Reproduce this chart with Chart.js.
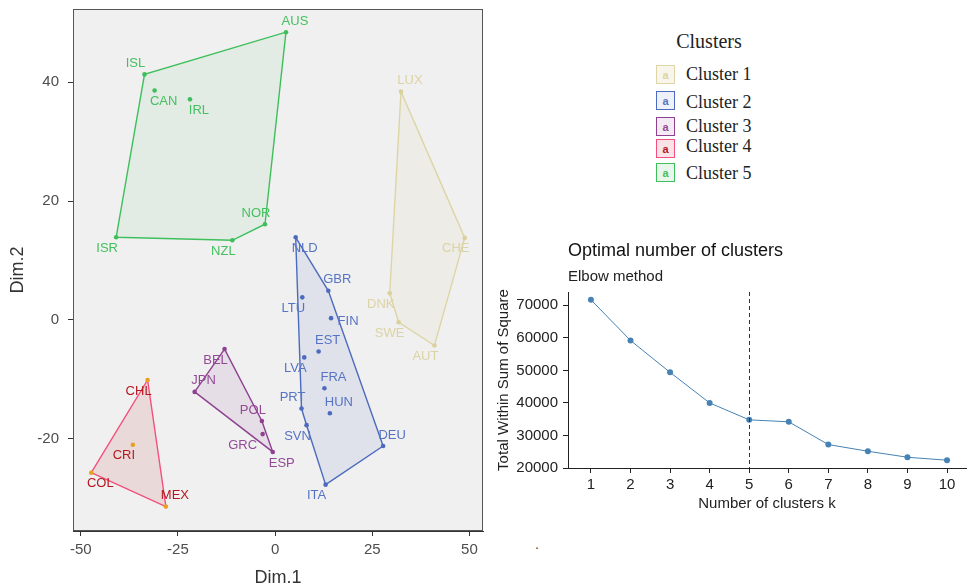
<!DOCTYPE html>
<html>
<head>
<meta charset="utf-8">
<script src="https://cdn.jsdelivr.net/npm/chart.js@4.4.0/dist/chart.umd.min.js"></script>
<style>
  body { margin: 0; background: #fff; width: 969px; height: 587px; position: relative; overflow: hidden;
         font-family: "Liberation Sans", Arial, sans-serif; }
  #clusterWrap { position: absolute; left: 0; top: 0; width: 490px; height: 587px; }
  #elbowWrap { position: absolute; left: 490px; top: 230px; width: 479px; height: 300px; }
  .lg-title { position: absolute; left: 709px; top: 41px; transform: translate(-50%, -50%);
              font: 20px "Liberation Serif", "Times New Roman", serif; color: #222; white-space: nowrap; }
  .lg-key { position: absolute; left: 656px; width: 17px; height: 17px; border: 1.5px solid;
            font: bold 11px "Liberation Sans", Arial, sans-serif; text-align: center; line-height: 18px; }
  .lg-text { position: absolute; left: 686px; transform: translateY(-50%);
             font: 18px "Liberation Serif", "Times New Roman", serif; color: #222; white-space: nowrap; }
  .stray { position: absolute; left: 535px; top: 536px; font: 14px "Liberation Sans", Arial, sans-serif; color: #444; }
</style>
</head>
<body>
<div id="clusterWrap"><canvas id="clusterChart"></canvas></div>
<div id="elbowWrap"><canvas id="elbowChart"></canvas></div>
<div id="legend"></div>
<div class="stray">.</div>

<script>
/******************************************************
 * DATA
 ******************************************************/
const clusterNames = ["Cluster 1", "Cluster 2", "Cluster 3", "Cluster 4", "Cluster 5"];

const c1Countries = ["LUX", "CHE", "DNK", "SWE", "AUT"];
const c1Dim1 = [32.4, 48.8, 29.5, 31.8, 41.0];
const c1Dim2 = [38.4, 13.8, 4.5, -0.4, -4.3];

const c2Countries = ["NLD", "GBR", "LTU", "FIN", "EST", "LVA", "FRA", "HUN", "PRT", "SVN", "DEU", "ITA"];
const c2Dim1 = [5.3, 13.7, 7.0, 14.4, 11.2, 7.5, 12.7, 14.1, 6.8, 8.1, 27.8, 13.0];
const c2Dim2 = [13.9, 4.9, 3.8, 0.3, -5.3, -6.3, -11.5, -15.7, -14.9, -17.7, -21.2, -27.7];

const c3Countries = ["BEL", "JPN", "POL", "GRC", "ESP"];
const c3Dim1 = [-13.0, -20.7, -3.4, -3.2, -0.6];
const c3Dim2 = [-4.9, -12.1, -17.0, -19.2, -22.2];

const c4Countries = ["CHL", "CRI", "COL", "MEX"];
const c4Dim1 = [-32.8, -36.6, -47.3, -28.1];
const c4Dim2 = [-10.1, -21.0, -25.7, -31.4];

const c5Countries = ["AUS", "ISL", "CAN", "IRL", "NOR", "ISR", "NZL"];
const c5Dim1 = [2.8, -33.6, -31.0, -21.9, -2.6, -40.9, -11.0];
const c5Dim2 = [48.4, 41.3, 38.6, 37.1, 16.1, 13.9, 13.4];

const dim1Ticks = [-50, -25, 0, 25, 50];
const dim2Ticks = [-20, 0, 20, 40];

const kValues = [1, 2, 3, 4, 5, 6, 7, 8, 9, 10];
const wssValues = [71700, 59200, 49400, 40000, 34800, 34200, 27200, 25150, 23300, 22400];
const wssTicks = [20000, 30000, 40000, 50000, 60000, 70000];
const optimalK = 5;

/******************************************************
 * STYLE
 ******************************************************/
const lineColors  = ["#DDD5A6", "#4D6BBE", "#8E4191", "#F2507E", "#3FBF5C"];
const pointColors = ["#D9D09C", "#4D6BBE", "#8E4191", "#E8A020", "#3FBF5C"];
const textColors  = ["#DCD3A4", "#5774C4", "#934A96", "#B4161E", "#45C05F"];
const fillColors  = ["rgba(221,213,166,0.12)", "rgba(77,107,190,0.10)", "rgba(142,65,145,0.10)",
                     "rgba(200,80,80,0.14)", "rgba(63,191,92,0.08)"];
const keyFills    = ["#F8F6EC", "#EEF1F9", "#F4EAF4", "#FAE3E7", "#E9F6EC"];
const keyTops     = [65, 90.5, 116.5, 139, 162.5];
const labelMids   = [74, 101.5, 126, 146, 172.5];

// label offsets (px) from each point, ggrepel style
const NE = [9, -11], NW = [-9, -11], SE = [9, 11], SW = [-9, 11];
const labelNudge = {
  AUS: NE, ISL: NW, CAN: SE, IRL: SE, NOR: NW, ISR: SW, NZL: SW,
  NLD: SE, GBR: NE, LTU: SW, FIN: [17, 3], EST: NE, LVA: SW, FRA: NE, HUN: NE, PRT: NW, SVN: SW, DEU: NE, ITA: SW,
  LUX: NE, CHE: SW, DNK: SW, SWE: SW, AUT: SW,
  BEL: SW, JPN: NE, POL: NW, GRC: [-20, 11], ESP: SE,
  CHL: SW, CRI: SW, COL: SE, MEX: NE
};

const clusters = [
  { countries: c1Countries, dim1: c1Dim1, dim2: c1Dim2 },
  { countries: c2Countries, dim1: c2Dim1, dim2: c2Dim2 },
  { countries: c3Countries, dim1: c3Dim1, dim2: c3Dim2 },
  { countries: c4Countries, dim1: c4Dim1, dim2: c4Dim2 },
  { countries: c5Countries, dim1: c5Dim1, dim2: c5Dim2 }
];

/******************************************************
 * HELPERS
 ******************************************************/
function convexHull(pts) {
  const p = pts.slice().sort((a, b) => a.x - b.x || a.y - b.y);
  const cross = (o, a, b) => (a.x - o.x) * (b.y - o.y) - (a.y - o.y) * (b.x - o.x);
  const lower = [];
  p.forEach(pt => {
    while (lower.length >= 2 && cross(lower[lower.length - 2], lower[lower.length - 1], pt) <= 0) lower.pop();
    lower.push(pt);
  });
  const upper = [];
  p.slice().reverse().forEach(pt => {
    while (upper.length >= 2 && cross(upper[upper.length - 2], upper[upper.length - 1], pt) <= 0) upper.pop();
    upper.push(pt);
  });
  upper.pop(); lower.pop();
  const hull = lower.concat(upper);
  hull.push(hull[0]);
  return hull;
}

/******************************************************
 * CLUSTER PLOT
 ******************************************************/
const clusterDatasets = [];
clusters.forEach((c, i) => {
  const pts = c.countries.map((name, j) => ({ x: c.dim1[j], y: c.dim2[j], name: name }));
  clusterDatasets.push({
    data: pts, showLine: false, pointRadius: 2.3, pointHoverRadius: 2.3,
    pointBackgroundColor: pointColors[i], pointBorderWidth: 0, clusterIndex: i
  });
  clusterDatasets.push({
    data: convexHull(pts), showLine: true, fill: "shape", tension: 0,
    borderColor: lineColors[i], borderWidth: 1.4, backgroundColor: fillColors[i], pointRadius: 0
  });
});

const panelPlugin = {
  id: "panel",
  beforeDraw(chart) {
    const { ctx, chartArea: a } = chart;
    ctx.save();
    ctx.fillStyle = "#F0F0F0";
    ctx.fillRect(a.left, a.top, a.right - a.left, a.bottom - a.top);
    ctx.restore();
  },
  afterDatasetsDraw(chart) {
    const { ctx, chartArea: a } = chart;
    ctx.save();
    ctx.strokeStyle = "#555";
    ctx.lineWidth = 1;
    ctx.strokeRect(a.left + 0.5, a.top + 0.5, a.right - a.left - 1, a.bottom - a.top - 1);
    ctx.font = "13px 'Liberation Sans', Arial, sans-serif";
    ctx.textAlign = "center";
    ctx.textBaseline = "middle";
    const xs = chart.scales.x, ys = chart.scales.y;
    clusters.forEach((c, i) => {
      ctx.fillStyle = textColors[i];
      c.countries.forEach((name, j) => {
        const nd = labelNudge[name] || NE;
        ctx.fillText(name, xs.getPixelForValue(c.dim1[j]) + nd[0], ys.getPixelForValue(c.dim2[j]) + nd[1]);
      });
    });
    ctx.restore();
  }
};

new Chart(document.getElementById("clusterChart"), {
  type: "scatter",
  data: { datasets: clusterDatasets },
  options: {
    responsive: true, maintainAspectRatio: false, animation: false,
    layout: { padding: { top: 9, right: 7, left: 0, bottom: 0 } },
    plugins: { legend: { display: false }, tooltip: { enabled: false } },
    scales: {
      x: {
        type: "linear", min: -52, max: 53.5,
        afterBuildTicks: s => { s.ticks = dim1Ticks.map(v => ({ value: v })); },
        afterFit: s => { s.height = 56; },
        grid: { drawOnChartArea: false, tickLength: 5, color: "#333" },
        border: { color: "#333" },
        ticks: { padding: 5, color: "#4D4D4D", font: { size: 15, family: "Liberation Sans" } },
        title: { display: true, text: "Dim.1", color: "#333",
                 font: { size: 18, family: "Liberation Sans", lineHeight: 1 }, padding: { top: 0, bottom: 0 } }
      },
      y: {
        type: "linear", min: -35.5, max: 52.3,
        afterBuildTicks: s => { s.ticks = dim2Ticks.map(v => ({ value: v })); },
        afterFit: s => { s.width = 73; s.paddingTop = 0; s.paddingBottom = 0; },
        grid: { drawOnChartArea: false, tickLength: 5, color: "#333" },
        border: { color: "#333" },
        ticks: { padding: 9, color: "#4D4D4D", font: { size: 15, family: "Liberation Sans" } },
        title: { display: true, text: "Dim.2", color: "#333",
                 font: { size: 18, family: "Liberation Sans", lineHeight: 1 }, padding: { top: 9, bottom: 0 } }
      }
    }
  },
  plugins: [panelPlugin]
});

/******************************************************
 * LEGEND
 ******************************************************/
const legend = document.getElementById("legend");
legend.innerHTML = '<div class="lg-title">Clusters</div>';
clusterNames.forEach((name, i) => {
  const key = document.createElement("div");
  key.className = "lg-key";
  key.style.top = keyTops[i] + "px";
  key.style.borderColor = lineColors[i];
  key.style.background = keyFills[i];
  key.style.color = textColors[i];
  key.textContent = "a";
  legend.appendChild(key);

  const txt = document.createElement("div");
  txt.className = "lg-text";
  txt.style.top = labelMids[i] + "px";
  txt.textContent = name;
  legend.appendChild(txt);
});

/******************************************************
 * ELBOW PLOT
 ******************************************************/
const elbowPlugin = {
  id: "elbow",
  afterDatasetsDraw(chart) {
    const { ctx, chartArea: a } = chart;
    const x = Math.round(chart.scales.x.getPixelForValue(optimalK)) + 0.5;
    ctx.save();
    ctx.strokeStyle = "#333";
    ctx.lineWidth = 1;
    ctx.setLineDash([4, 3]);
    ctx.beginPath();
    ctx.moveTo(x, a.top);
    ctx.lineTo(x, a.bottom);
    ctx.stroke();
    ctx.restore();
  },
  afterDraw(chart) {
    const { ctx, chartArea: a } = chart;
    ctx.save();
    ctx.textAlign = "left";
    ctx.textBaseline = "middle";
    ctx.fillStyle = "#111";
    ctx.font = "18px 'Liberation Sans', Arial, sans-serif";
    ctx.fillText("Optimal number of clusters", a.left, 21);
    ctx.fillStyle = "#222";
    ctx.font = "15px 'Liberation Sans', Arial, sans-serif";
    ctx.fillText("Elbow method", a.left, 47);
    ctx.restore();
  }
};

new Chart(document.getElementById("elbowChart"), {
  type: "line",
  data: {
    datasets: [{
      data: kValues.map((k, i) => ({ x: k, y: wssValues[i] })),
      borderColor: "#4682B4", borderWidth: 1, backgroundColor: "#4682B4",
      pointRadius: 3, pointHoverRadius: 3, pointBorderWidth: 0, tension: 0, fill: false
    }]
  },
  options: {
    responsive: true, maintainAspectRatio: false, animation: false,
    layout: { padding: { top: 62, right: 0, left: 0, bottom: 0 } },
    plugins: { legend: { display: false }, tooltip: { enabled: false } },
    scales: {
      x: {
        type: "linear", min: 0.42, max: 10.48,
        afterBuildTicks: s => { s.ticks = kValues.map(v => ({ value: v })); },
        afterFit: s => { s.height = 62; },
        grid: { drawOnChartArea: false, tickLength: 5, color: "#222" },
        border: { color: "#222" },
        ticks: { padding: 3, color: "#222", font: { size: 15, family: "Liberation Sans" } },
        title: { display: true, text: "Number of clusters k", color: "#222",
                 font: { size: 15, family: "Liberation Sans" }, padding: { top: 0, bottom: 17 } }
      },
      y: {
        type: "linear", min: 20000, max: 74100,
        afterBuildTicks: s => { s.ticks = wssTicks.map(v => ({ value: v })); },
        afterFit: s => { s.width = 78; },
        grid: { drawOnChartArea: false, tickLength: 5, color: "#222" },
        border: { color: "#222" },
        ticks: { padding: 5, color: "#222", font: { size: 15, family: "Liberation Sans" },
                 callback: v => String(v) },
        title: { display: true, text: "Total Within Sum of Square", color: "#222",
                 font: { size: 15, family: "Liberation Sans" }, padding: { top: 5, bottom: 0 } }
      }
    }
  },
  plugins: [elbowPlugin]
});
</script>
</body>
</html>
